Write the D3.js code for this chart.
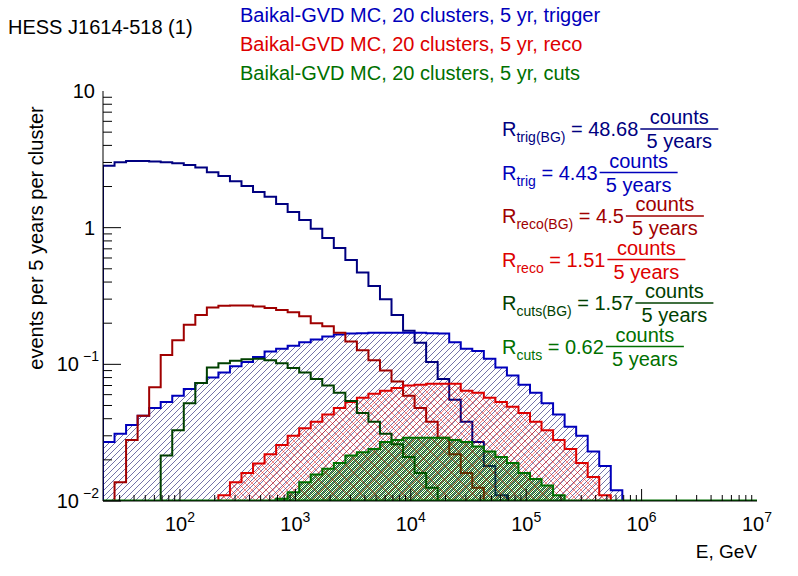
<!DOCTYPE html>
<html><head><meta charset="utf-8">
<script src="https://cdn.jsdelivr.net/npm/d3@7"></script>
<style>body{margin:0;background:#fff}text{font-family:"Liberation Sans",Arial,sans-serif}</style>
</head><body><svg id="c" width="798" height="576"></svg>
<script>
// log10 of first bin edge and bin width in decades
const logMin = 1.333, binW = 0.1;
// each series: first bin index, then values
const trigBGStart = 0;
const trigBG = [2.84,3.01,3.07,3.07,3.05,3.01,2.96,2.88,2.75,2.54,2.39,2.19,2.02,1.82,1.68,1.49,1.30,1.14,0.98,0.84,0.71,0.58,0.47,0.375,0.30,0.23,0.176,0.144,0.104,0.078,0.055,0.038,0.027,0.018,0.011];
const trigStart = 0;
const trig = [0.027,0.031,0.036,0.042,0.048,0.053,0.059,0.066,0.073,0.080,0.087,0.097,0.104,0.113,0.124,0.130,0.137,0.145,0.152,0.160,0.165,0.168,0.169,0.17,0.17,0.17,0.17,0.17,0.169,0.168,0.145,0.13,0.125,0.11,0.095,0.083,0.071,0.062,0.052,0.043,0.035,0.030,0.023,0.018,0.012];
const recoBGStart = 1;
const recoBG = [0.0137,0.028,0.042,0.068,0.117,0.15,0.195,0.23,0.26,0.268,0.27,0.27,0.265,0.258,0.25,0.24,0.225,0.20,0.19,0.17,0.147,0.127,0.107,0.09,0.075,0.059,0.048,0.038,0.029,0.022,0.016,0.0125];
const recoStart = 10;
const reco = [0.011,0.0137,0.016,0.0188,0.022,0.0257,0.030,0.034,0.038,0.043,0.048,0.053,0.057,0.061,0.064,0.067,0.070,0.071,0.072,0.072,0.072,0.064,0.062,0.057,0.053,0.049,0.044,0.038,0.033,0.028,0.024,0.019,0.015,0.011];
const cutsBGStart = 5;
const cutsBG = [0.0215,0.033,0.052,0.073,0.095,0.102,0.106,0.109,0.110,0.107,0.102,0.094,0.087,0.078,0.070,0.062,0.054,0.044,0.038,0.031,0.026,0.021,0.016,0.0125];
const cutsStart = 15;
const cuts = [0.0104,0.0116,0.0137,0.0156,0.0172,0.019,0.0215,0.0227,0.024,0.027,0.028,0.029,0.029,0.029,0.029,0.028,0.027,0.025,0.023,0.021,0.019,0.016,0.0145,0.013,0.011];
const xTicks = [1e2,1e3,1e4,1e5,1e6,1e7];
const xTickExp = ["2","3","4","5","6","7"];
const yTicks = [10,1,0.1,0.01];
const yTickLabels = [["10",""],["1",""],["10","−1"],["10","−2"]];
const legend = ["Baikal-GVD MC, 20 clusters, 5 yr, trigger","Baikal-GVD MC, 20 clusters, 5 yr, reco","Baikal-GVD MC, 20 clusters, 5 yr, cuts"];
const rates = [["trig(BG)","48.68"],["trig","4.43"],["reco(BG)","4.5"],["reco","1.51"],["cuts(BG)","1.57"],["cuts","0.62"]];

const C = {tbg:"#000080",t:"#0000bb",rbg:"#a00000",r:"#dd0000",cbg:"#004000",c:"#007000"};
const svg = d3.select("#c");
const L=103,R=757,T=91,B=501;
const x = d3.scaleLog().domain([Math.pow(10,logMin),1e7]).range([L,R]);
const y = d3.scaleLog().domain([0.01,10]).range([B,T]).clamp(true);

const defs = svg.append("defs");
defs.append("clipPath").attr("id","clip").append("rect").attr("x",L).attr("y",T).attr("width",R-L).attr("height",B-T);
const p1 = defs.append("pattern").attr("id","hb").attr("patternUnits","userSpaceOnUse").attr("width",6).attr("height",6);
p1.append("path").attr("d","M0,6L6,0M-1,1L1,-1M5,7L7,5").attr("stroke","#000060").attr("stroke-width",0.55);
const p2 = defs.append("pattern").attr("id","hr").attr("patternUnits","userSpaceOnUse").attr("width",7).attr("height",7);
p2.append("path").attr("d","M0,7L7,0M-1,1L1,-1M6,8L8,6M0,0L7,7M-1,6L1,8M6,-1L8,1").attr("stroke",C.r).attr("stroke-width",0.45);
const p3 = defs.append("pattern").attr("id","hg").attr("patternUnits","userSpaceOnUse").attr("width",2).attr("height",2).attr("shape-rendering","crispEdges");
p3.append("rect").attr("x",0).attr("y",0).attr("width",1).attr("height",1).attr("fill",C.c);
p3.append("rect").attr("x",1).attr("y",1).attr("width",1).attr("height",1).attr("fill",C.c);

const edge = k => Math.pow(10, logMin + binW*k);
function histPath(start, vals, closed){
  let d = `M${x(edge(start))},${B}`;
  vals.forEach((v,i)=>{ const yy = v>0?y(v):B; d += `L${x(edge(start+i))},${yy}L${x(edge(start+i+1))},${yy}`; });
  d += `L${x(edge(start+vals.length))},${B}`;
  if(closed) d+="Z";
  return d;
}
const g = svg.append("g").attr("clip-path","url(#clip)");
function draw(start, vals, col, fill, op){
  if(fill) g.append("path").attr("d",histPath(start,vals,true)).attr("fill",fill).attr("fill-opacity",op||1).attr("stroke","none");
  g.append("path").attr("d",histPath(start,vals,false)).attr("fill","none").attr("stroke",col).attr("stroke-width",2);
}
draw(trigBGStart,trigBG,C.tbg,null);
draw(trigStart,trig,C.t,"url(#hb)");
draw(recoBGStart,recoBG,C.rbg,null);
draw(recoStart,reco,C.r,"url(#hr)");
draw(cutsBGStart,cutsBG,C.cbg,null);
draw(cutsStart,cuts,C.c,"url(#hg)",0.85);
g.append("line").attr("x1",L).attr("x2",R).attr("y1",B-0.5).attr("y2",B-0.5).attr("stroke",C.c).attr("stroke-width",2);

// axes
svg.append("line").attr("x1",L).attr("x2",R).attr("y1",B).attr("y2",B).attr("stroke","#000");
svg.append("line").attr("x1",L).attr("x2",L).attr("y1",T).attr("y2",B).attr("stroke","#000");
for(let e=1;e<7;e++) for(let m=1;m<10;m++){
  const v=m*Math.pow(10,e); if(v<x.domain()[0]||v>1e7) continue;
  const len = m===1?12:6;
  svg.append("line").attr("x1",x(v)).attr("x2",x(v)).attr("y1",B).attr("y2",B-len).attr("stroke","#000");
}
xTicks.forEach((v,i)=>{
  const t=svg.append("text").attr("x",x(v)).attr("y",531).attr("text-anchor","middle").attr("font-size",20);
  t.append("tspan").text("10");
  t.append("tspan").attr("dy",-9).attr("font-size",14).text(xTickExp[i]);
});
for(let e=-2;e<1;e++) for(let m=1;m<10;m++){
  const v=m*Math.pow(10,e); const len=m===1?18:9;
  svg.append("line").attr("x1",L).attr("x2",L+len).attr("y1",y(v)).attr("y2",y(v)).attr("stroke","#000");
}
yTicks.forEach((v,i)=>{
  const [b,s]=yTickLabels[i];
  const t=svg.append("text").attr("x",s?L-24:L-8).attr("y",y(v)+7).attr("text-anchor","end").attr("font-size",20);
  t.append("tspan").text(b);
  if(s){svg.append("text").attr("x",L-4).attr("y",y(v)-3).attr("text-anchor","end").attr("font-size",14).text(s);}
});
svg.append("text").attr("x",757).attr("y",558).attr("text-anchor","end").attr("font-size",19).text("E, GeV");
svg.append("text").attr("transform","translate(43,238) rotate(-90)").attr("text-anchor","middle").attr("font-size",20).text("events per 5 years per cluster");
svg.append("text").attr("x",8).attr("y",34).attr("font-size",20).text("HESS J1614-518 (1)");
const lc=[C.t,C.r,C.c];
legend.forEach((s,i)=>svg.append("text").attr("x",240).attr("y",22+i*29).attr("font-size",20).attr("fill",lc[i]).text(s));

const rc=[C.tbg,C.t,C.rbg,C.r,C.cbg,C.c];
rates.forEach((r,i)=>{
  const by=136+i*43.5;
  const t=svg.append("text").attr("x",502).attr("y",by).attr("font-size",20).attr("fill",rc[i]);
  t.append("tspan").text("R");
  t.append("tspan").attr("dy",6).attr("font-size",14).text(r[0]);
  t.append("tspan").attr("dy",-6).text(" = "+r[1]+" ");
  const w=t.node().getComputedTextLength();
  const fx=502+w+2, fw=78;
  svg.append("line").attr("x1",fx).attr("x2",fx+fw).attr("y1",by-7).attr("y2",by-7).attr("stroke",rc[i]).attr("stroke-width",1.5);
  svg.append("text").attr("x",fx+fw/2).attr("y",by-12).attr("text-anchor","middle").attr("font-size",20).attr("fill",rc[i]).text("counts");
  svg.append("text").attr("x",fx+fw/2).attr("y",by+12).attr("text-anchor","middle").attr("font-size",20).attr("fill",rc[i]).text("5 years");
});
</script></body></html>
